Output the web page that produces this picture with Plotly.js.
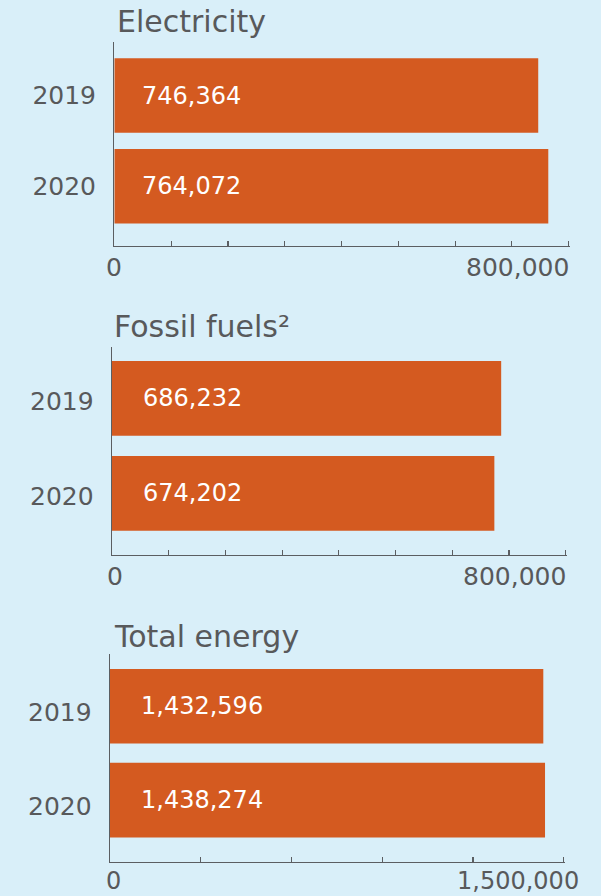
<!DOCTYPE html>
<html>
<head>
<meta charset="utf-8">
<script src="https://cdn.plot.ly/plotly-3.0.1.min.js"></script>
<style>
  html, body { margin: 0; padding: 0; background: #d9eff9; }
  #chart { width: 601px; height: 896px; }
</style>
</head>
<body>
<div id="chart"></div>
<script>
// ---- data ----
const years = ['2019', '2020'];
const electricity = [746364, 764072];
const fossilFuels = [686232, 674202];
const totalEnergy = [1432596, 1438274];
const panelTitles = ['Electricity', 'Fossil fuels²', 'Total energy'];
const axisMax = [800000, 800000, 1500000];
const tickStep = [100000, 100000, 300000];
const axisTickLabels = [['0', '800,000'], ['0', '800,000'], ['0', '1,500,000']];

// ---- styling / layout ----
const W = 601, H = 896;
const BG = '#d9eff9';
const BAR = '#d45a20';
const TXT = '#58595b';
const AXIS = '#5b5e62';
const FONT = 'DejaVu Sans, sans-serif';
const EXT = 0.003; // tiny range extension so the end tick is drawn

const series = [electricity, fossilFuels, totalEnergy];
const geo = [
  {l: 114.3, r: 568.7, t: 42.3, b: 246.0, yr: [1.657, -0.586], bw: 0.82, titleX: 115, titleY: 22, valShift: 26, labShift: -51, zeroShift: 0, labY: 22, yShift: -3.5},
  {l: 112.0, r: 565.7, t: 347.3, b: 555.0, yr: [1.649, -0.537], bw: 0.786, titleX: 112, titleY: 326.4, valShift: 29, labShift: -51, zeroShift: 3, labY: 21, yShift: -3},
  {l: 110.0, r: 563.7, t: 654.0, b: 861.7, yr: [1.655, -0.557], bw: 0.795, titleX: 112, titleY: 636, valShift: 29, labShift: -46, zeroShift: 3, labY: 19, yShift: -6}
];

const px = v => v / W;
const py = v => 1 - v / H;

const traces = [];
const layout = {
  width: W, height: H, autosize: false,
  margin: {l: 0, r: 0, t: 0, b: 0, pad: 0},
  paper_bgcolor: BG, plot_bgcolor: BG,
  showlegend: false,
  font: {family: FONT, color: TXT},
  annotations: []
};

series.forEach((vals, i) => {
  const g = geo[i];
  const xa = i === 0 ? 'x' : 'x' + (i + 1);
  const ya = i === 0 ? 'y' : 'y' + (i + 1);
  const xk = i === 0 ? 'xaxis' : 'xaxis' + (i + 1);
  const yk = i === 0 ? 'yaxis' : 'yaxis' + (i + 1);
  const rightPx = g.r + (g.r - g.l) * EXT;

  traces.push({
    type: 'bar', orientation: 'h',
    x: vals, y: years,
    xaxis: xa, yaxis: ya,
    width: g.bw,
    marker: {color: BAR, line: {width: 0}},
    hoverinfo: 'none'
  });

  layout[xk] = {
    domain: [px(g.l), px(rightPx)],
    anchor: ya,
    range: [0, axisMax[i] * (1 + EXT)], autorange: false,
    showline: true, linecolor: AXIS, linewidth: 1.3,
    ticks: 'inside', ticklen: 5, tickwidth: 1.2, tickcolor: AXIS,
    tickmode: 'linear', tick0: 0, dtick: tickStep[i],
    showticklabels: false, showgrid: false, zeroline: false,
    fixedrange: true
  };
  layout[yk] = {
    domain: [py(g.b), py(g.t)],
    anchor: xa,
    type: 'category', categoryorder: 'array', categoryarray: years,
    range: g.yr, autorange: false,
    showline: true, linecolor: AXIS, linewidth: 1.3,
    ticks: '', showgrid: false, zeroline: false,
    tickfont: {family: FONT, size: 25, color: TXT},
    ticklabelstandoff: 12,
    ticklabelshift: g.yShift,
    fixedrange: true
  };

  // panel title
  layout.annotations.push({
    xref: 'paper', yref: 'paper', x: px(g.titleX), y: py(g.titleY),
    xanchor: 'left', yanchor: 'middle', showarrow: false,
    text: panelTitles[i], font: {family: FONT, size: 30, color: TXT}
  });

  // value labels inside bars (category index positions)
  vals.forEach((v, j) => {
    layout.annotations.push({
      xref: xa, yref: ya, x: 0, y: j,
      xanchor: 'left', yanchor: 'middle', xshift: g.valShift, showarrow: false,
      text: v.toLocaleString('en-US'), font: {family: FONT, size: 24, color: '#ffffff'}
    });
  });

  // axis end labels
  const tv = [0, axisMax[i]];
  tv.forEach((t, k) => {
    layout.annotations.push({
      xref: xa, yref: 'paper', x: t, y: py(g.b + g.labY),
      xanchor: 'center', yanchor: 'middle',
      xshift: k === 0 ? g.zeroShift : g.labShift, showarrow: false,
      text: axisTickLabels[i][k], font: {family: FONT, size: i === 2 ? 24 : 25, color: TXT}
    });
  });
});

Plotly.newPlot('chart', traces, layout, {staticPlot: true, displayModeBar: false});
</script>
</body>
</html>
